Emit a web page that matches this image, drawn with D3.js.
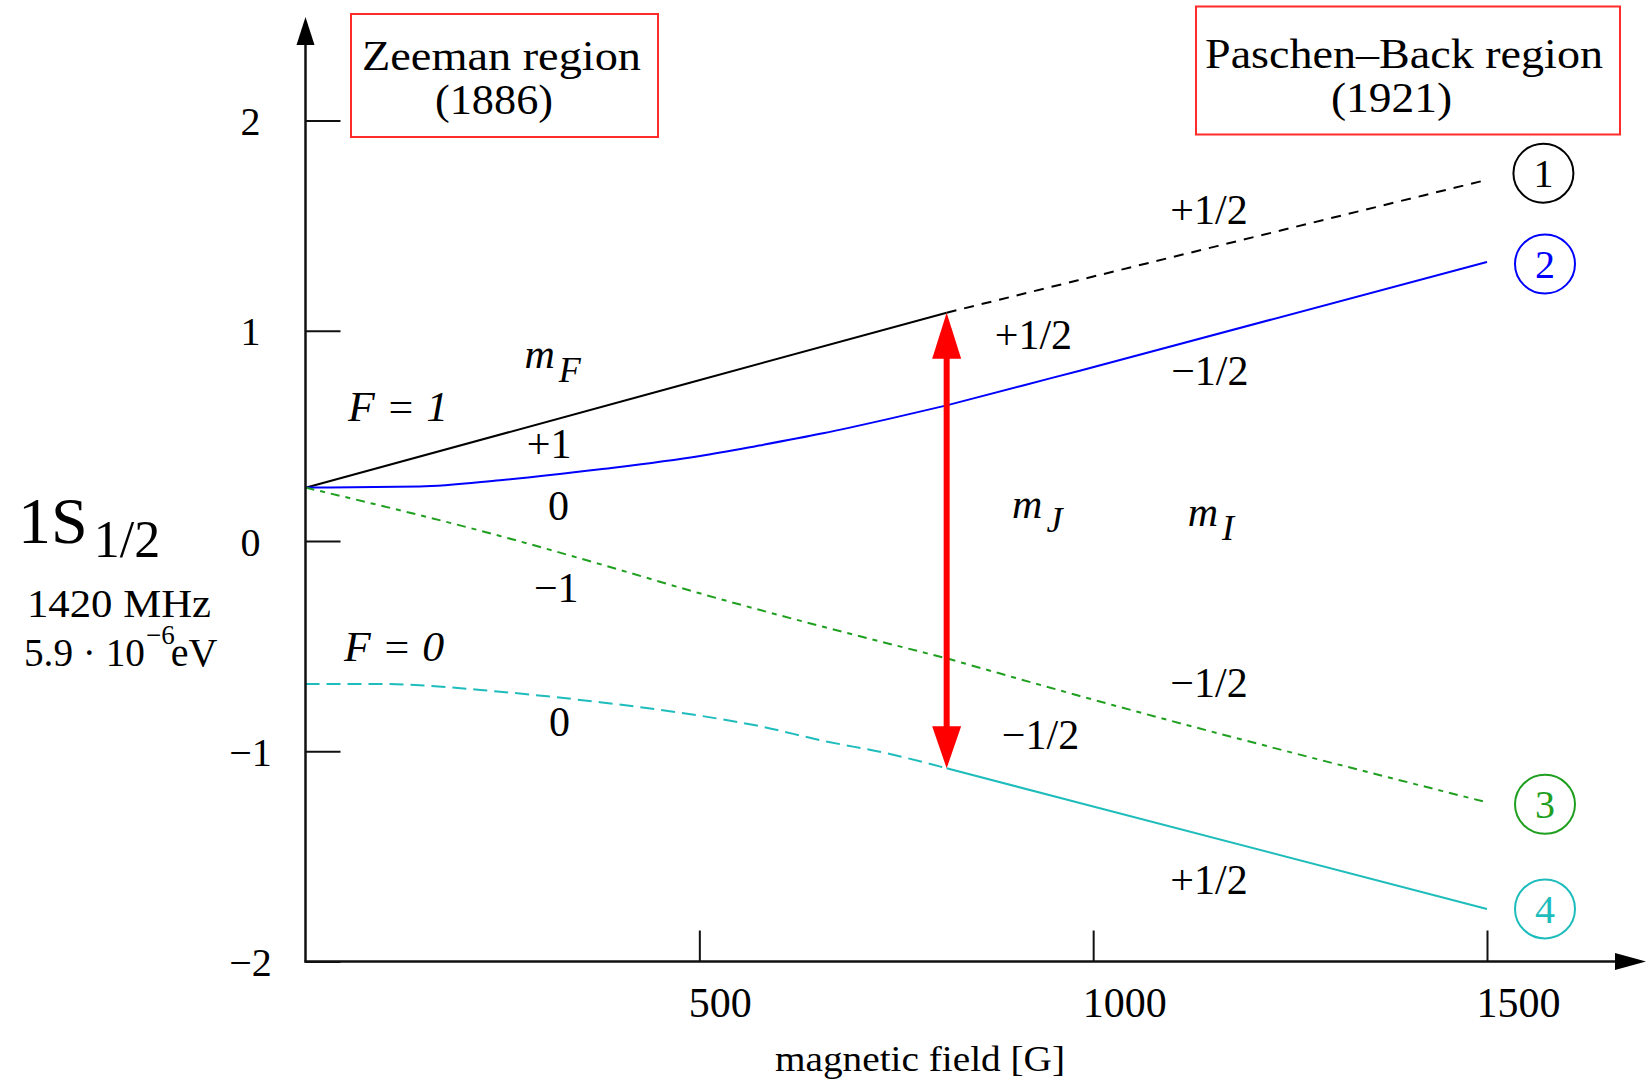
<!DOCTYPE html>
<html>
<head>
<meta charset="utf-8">
<script src="https://cdn.jsdelivr.net/npm/d3@7"></script>
<style>
  html, body { margin: 0; padding: 0; background: #fff; }
  svg { display: block; font-family: "Liberation Serif", "Times New Roman", serif; }
</style>
</head>
<body>
<svg id="chart" width="1647" height="1079"></svg>
<script>
// Hyperfine levels of the hydrogen ground state 1S1/2 in a magnetic field,
// from the Zeeman (weak field) to the Paschen–Back (strong field) region.
// Field in gauss, energy in arbitrary units.
const level1Field  = [0, 488, 814, 983, 1498];
const level1Energy = [0.253, 0.753, 1.086, 1.242, 1.716];
const level2Field  = [0, 145, 247, 374, 501, 573, 657, 742, 814, 911, 983, 1500];
const level2Energy = [0.254, 0.259, 0.289, 0.341, 0.404, 0.452, 0.512, 0.582, 0.645, 0.740, 0.810, 1.327];
const level3Field  = [0, 247, 374, 497, 814, 983, 1500];
const level3Energy = [0.254, 0.024, -0.110, -0.245, -0.558, -0.737, -1.243];
const level4Field  = [0, 95, 247, 374, 501, 573, 657, 742, 814, 983, 1500];
const level4Energy = [-0.680, -0.680, -0.717, -0.767, -0.831, -0.878, -0.950, -1.013, -1.081, -1.246, -1.750];
const levelNames = ["1", "2", "3", "4"];
const transitionField = 814;            // field of the marked transition
const xTickValues = [500, 1000, 1500];
const yTickValues = [-2, -1, 0, 1, 2];

const svg = d3.select("#chart");

const x = d3.scaleLinear().domain([0, 1500]).range([305.5, 1487]);
const y = d3.scaleLinear().domain([-2, 2]).range([961.5, 120.5]);

const levels = [
  { name: levelNames[0], field: level1Field, energy: level1Energy, color: "#000000",
    before: null, after: "10,8", dy: -7 },
  { name: levelNames[1], field: level2Field, energy: level2Energy, color: "#0000ff",
    before: null, after: null, dy: 2 },
  { name: levelNames[2], field: level3Field, energy: level3Energy, color: "#1f9f1f",
    before: "9,6,5,6", after: "9,6,5,6", dy: 2 },
  { name: levelNames[3], field: level4Field, energy: level4Energy, color: "#1fbcbc",
    before: "14,7", after: null, dy: 0 }
];

const line = d3.line()
  .x(d => x(d[0]))
  .y(d => y(d[1]))
  .curve(d3.curveMonotoneX);

// ---- energy levels (line style changes at the transition field) ----
const gLevels = svg.append("g").attr("fill", "none").attr("stroke-width", 2);
levels.forEach(lv => {
  const pts = lv.field.map((b, i) => [b, lv.energy[i]]);
  const low = pts.filter(p => p[0] <= transitionField);
  const high = pts.filter(p => p[0] >= transitionField);
  gLevels.append("path").attr("d", line(low)).attr("stroke", lv.color)
    .attr("stroke-dasharray", lv.before);
  gLevels.append("path").attr("d", line(high)).attr("stroke", lv.color)
    .attr("stroke-dasharray", lv.after);
});

// ---- axes ----
const axisColor = "#111";
const yAxis = d3.axisLeft(y).tickValues(yTickValues).tickFormat(d3.format("d"))
  .tickSizeInner(-35).tickSizeOuter(0).tickPadding(0);
const gy = svg.append("g").attr("transform", `translate(${x(0)},0)`).call(yAxis);
gy.attr("font-family", null).attr("font-size", 40);
gy.select(".domain").remove();
gy.selectAll(".tick line").attr("stroke", axisColor).attr("stroke-width", 2);
gy.selectAll(".tick text").attr("x", -55).attr("dy", null).attr("y", 14)
  .attr("text-anchor", "middle").attr("fill", "#000");

const xAxis = d3.axisBottom(x).tickValues(xTickValues).tickFormat(d3.format("d"))
  .tickSizeInner(-31).tickSizeOuter(0).tickPadding(0);
const gx = svg.append("g").attr("transform", `translate(0,${y(-2)})`).call(xAxis);
gx.attr("font-family", null).attr("font-size", 42);
gx.select(".domain").remove();
gx.selectAll(".tick line").attr("stroke", axisColor).attr("stroke-width", 2);
gx.selectAll(".tick text").attr("x", -11).attr("dy", null).attr("y", 55)
  .attr("text-anchor", "start").attr("fill", "#000");

// axis lines with arrow heads
const x0 = x(0), yBase = y(-2);
const yTip = 17, xTip = 1646;
svg.append("line").attr("x1", x0).attr("x2", x0).attr("y1", yBase + 1).attr("y2", yTip + 20)
  .attr("stroke", axisColor).attr("stroke-width", 2.5);
svg.append("path").attr("d", `M${x0},${yTip} L${x0 + 9},${yTip + 28} L${x0 - 9},${yTip + 28} Z`)
  .attr("fill", "#000");
svg.append("line").attr("x1", x0 - 1).attr("x2", xTip - 20).attr("y1", yBase).attr("y2", yBase)
  .attr("stroke", axisColor).attr("stroke-width", 2.5);
svg.append("path").attr("d", `M${xTip},${yBase} L${xTip - 31},${yBase - 8.5} L${xTip - 31},${yBase + 8.5} Z`)
  .attr("fill", "#000");

svg.append("text").attr("x", 775).attr("y", 1071).attr("font-size", 36)
  .attr("textLength", 290).attr("lengthAdjust", "spacingAndGlyphs")
  .text("magnetic field [G]");

// ---- transition arrow between level 1 and level 4 ----
const eTop = level1Energy[level1Field.indexOf(transitionField)];
const eBot = level4Energy[level4Field.indexOf(transitionField)];
const ax = x(transitionField), ayTop = y(eTop), ayBot = y(eBot);
const red = "#ff0000";
svg.append("line").attr("x1", ax).attr("x2", ax).attr("y1", ayTop + 40).attr("y2", ayBot - 38)
  .attr("stroke", red).attr("stroke-width", 6);
svg.append("path").attr("d", `M${ax},${ayTop} L${ax + 14.5},${ayTop + 46} L${ax - 14.5},${ayTop + 46} Z`)
  .attr("fill", red);
svg.append("path").attr("d", `M${ax},${ayBot} L${ax + 14.5},${ayBot - 42} L${ax - 14.5},${ayBot - 42} Z`)
  .attr("fill", red);

// ---- circled level numbers at the strong-field end ----
levels.forEach(lv => {
  const n = lv.field.length - 1;
  const cx = x(lv.field[n]) + 58;
  const cy = y(lv.energy[n]) + lv.dy;
  svg.append("ellipse").attr("cx", cx).attr("cy", cy).attr("rx", 30).attr("ry", 29.5)
    .attr("fill", "none").attr("stroke", lv.color).attr("stroke-width", 2);
  svg.append("text").attr("x", cx).attr("y", cy + 14).attr("text-anchor", "middle")
    .attr("font-size", 40).attr("fill", lv.color).text(lv.name);
});

// ---- quantum number labels, anchored in field/energy units ----
const numberLabels = [
  { t: "+1/2", b: 1098, e: 1.510 },
  { t: "+1/2", b: 875,  e: 0.913 },
  { t: "\u22121/2", b: 1099, e: 0.740 },
  { t: "\u22121/2", b: 1098, e: -0.744 },
  { t: "\u22121/2", b: 884,  e: -0.989 },
  { t: "+1/2", b: 1098, e: -1.679 },
  { t: "+1", b: 281, e: 0.395 },
  { t: "0",  b: 308, e: 0.102 },
  { t: "\u22121", b: 290, e: -0.290 },
  { t: "0",  b: 309, e: -0.927 }
];
svg.append("g").attr("font-size", 42).selectAll("text").data(numberLabels).join("text")
  .attr("x", d => x(d.b)).attr("y", d => y(d.e)).text(d => d.t);

const italicLabels = [
  { t: "F = 1", b: 54, e: 0.569 },
  { t: "F = 0", b: 49, e: -0.571 }
];
svg.append("g").attr("font-size", 42).attr("font-style", "italic")
  .selectAll("text").data(italicLabels).join("text")
  .attr("x", d => x(d.b)).attr("y", d => y(d.e))
  .attr("textLength", 100).attr("lengthAdjust", "spacingAndGlyphs").text(d => d.t);

const subLabels = [
  { sub: "F", b: 278, e: 0.823 },
  { sub: "J", b: 897, e: 0.109 },
  { sub: "I", b: 1120, e: 0.073 }
];
const gSub = svg.append("g").attr("font-style", "italic");
subLabels.forEach(d => {
  const t = gSub.append("text").attr("x", x(d.b)).attr("y", y(d.e)).attr("font-size", 42);
  t.append("tspan").text("m");
  t.append("tspan").attr("dx", 4).attr("dy", 14).attr("font-size", 36).text(d.sub);
});

// ---- state label on the left ----
const st = svg.append("text").attr("x", 18).attr("y", 543).attr("font-size", 66);
st.append("tspan").text("1S");
st.append("tspan").attr("dx", 6).attr("dy", 14).attr("font-size", 52).text("1/2");

svg.append("text").attr("x", 27).attr("y", 617).attr("font-size", 40)
  .attr("textLength", 184).attr("lengthAdjust", "spacingAndGlyphs").text("1420 MHz");
const ev = svg.append("text").attr("x", 24).attr("y", 666).attr("font-size", 40);
ev.append("tspan").attr("textLength", 121).attr("lengthAdjust", "spacingAndGlyphs").text("5.9 \u00b7 10");
ev.append("tspan").attr("dx", 1).attr("dy", -22).attr("font-size", 27).text("\u22126");
ev.append("tspan").attr("dx", -4).attr("dy", 22).text("eV");

// ---- region boxes ----
const boxRed = "#ff2a2a";
svg.append("rect").attr("x", 351).attr("y", 14).attr("width", 307).attr("height", 123)
  .attr("fill", "none").attr("stroke", boxRed).attr("stroke-width", 2);
svg.append("text").attr("x", 362).attr("y", 70).attr("font-size", 43)
  .attr("textLength", 279).attr("lengthAdjust", "spacingAndGlyphs").text("Zeeman region");
svg.append("text").attr("x", 435).attr("y", 114).attr("font-size", 43)
  .attr("textLength", 118).attr("lengthAdjust", "spacingAndGlyphs").text("(1886)");

svg.append("rect").attr("x", 1196).attr("y", 6.5).attr("width", 424).attr("height", 128)
  .attr("fill", "none").attr("stroke", boxRed).attr("stroke-width", 2);
svg.append("text").attr("x", 1205).attr("y", 68).attr("font-size", 43)
  .attr("textLength", 398).attr("lengthAdjust", "spacingAndGlyphs").text("Paschen\u2013Back region");
svg.append("text").attr("x", 1331).attr("y", 112).attr("font-size", 43)
  .attr("textLength", 121).attr("lengthAdjust", "spacingAndGlyphs").text("(1921)");
</script>
</body>
</html>
